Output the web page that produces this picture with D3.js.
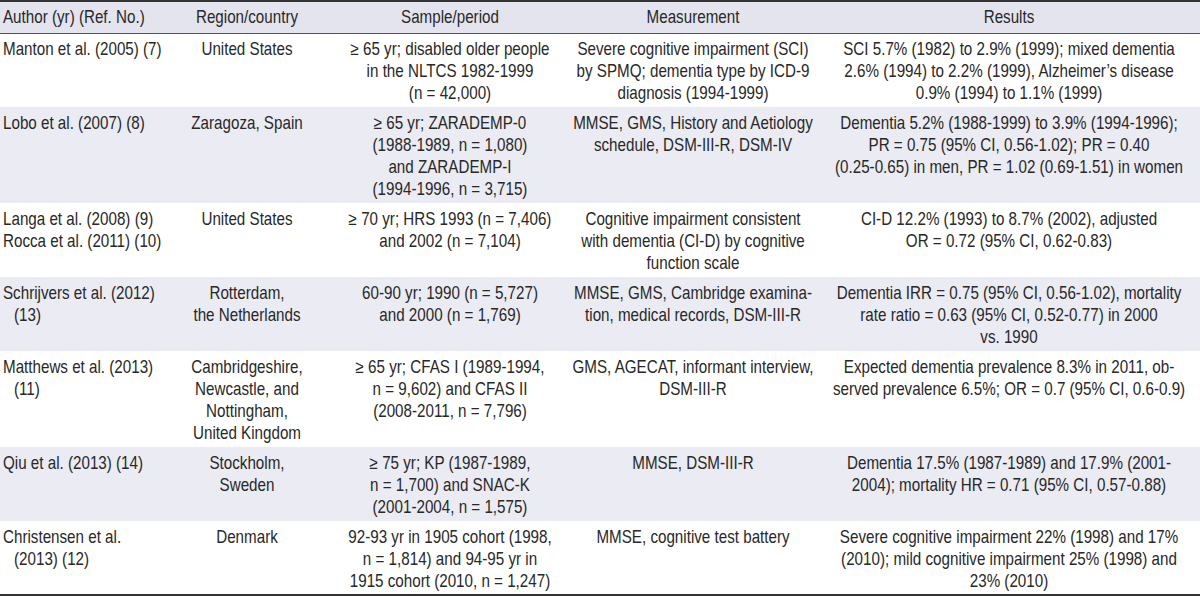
<!DOCTYPE html>
<html>
<head>
<meta charset="utf-8">
<script src="https://cdn.jsdelivr.net/npm/d3@7/dist/d3.min.js"></script>
<style>
  html, body { margin: 0; padding: 0; background: #ffffff; }
  svg { display: block; }
  text { font-family: "Liberation Sans Narrow", "Arial Narrow", "Liberation Sans", Arial, sans-serif; font-size: 18px; fill: #282828; }
</style>
</head>
<body>
<svg id="chart" width="1200" height="596"></svg>
<script>
// ---- Table content (lines broken as in the reference) ----
const columns = ["Author (yr) (Ref. No.)", "Region/country", "Sample/period", "Measurement", "Results"];

const authors = [
  ["Manton et al. (2005) (7)"],
  ["Lobo et al. (2007) (8)"],
  ["Langa et al. (2008) (9)", "Rocca et al. (2011) (10)"],
  ["Schrijvers et al. (2012)", "(13)"],
  ["Matthews et al. (2013)", "(11)"],
  ["Qiu et al. (2013) (14)"],
  ["Christensen et al.", "(2013) (12)"]
];

const regions = [
  ["United States"],
  ["Zaragoza, Spain"],
  ["United States"],
  ["Rotterdam,", "the Netherlands"],
  ["Cambridgeshire,", "Newcastle, and", "Nottingham,", "United Kingdom"],
  ["Stockholm,", "Sweden"],
  ["Denmark"]
];

const samples = [
  ["≥ 65 yr; disabled older people", "in the NLTCS 1982-1999", "(n = 42,000)"],
  ["≥ 65 yr; ZARADEMP-0", "(1988-1989, n = 1,080)", "and ZARADEMP-I", "(1994-1996, n = 3,715)"],
  ["≥ 70 yr; HRS 1993 (n = 7,406)", "and 2002 (n = 7,104)"],
  ["60-90 yr; 1990 (n = 5,727)", "and 2000 (n = 1,769)"],
  ["≥ 65 yr; CFAS I (1989-1994,", "n = 9,602) and CFAS II", "(2008-2011, n = 7,796)"],
  ["≥ 75 yr; KP (1987-1989,", "n = 1,700) and SNAC-K", "(2001-2004, n = 1,575)"],
  ["92-93 yr in 1905 cohort (1998,", "n = 1,814) and 94-95 yr in", "1915 cohort (2010, n = 1,247)"]
];

const measurements = [
  ["Severe cognitive impairment (SCI)", "by SPMQ; dementia type by ICD-9", "diagnosis (1994-1999)"],
  ["MMSE, GMS, History and Aetiology", "schedule, DSM-III-R, DSM-IV"],
  ["Cognitive impairment consistent", "with dementia (CI-D) by cognitive", "function scale"],
  ["MMSE, GMS, Cambridge examina-", "tion, medical records, DSM-III-R"],
  ["GMS, AGECAT, informant interview,", "DSM-III-R"],
  ["MMSE, DSM-III-R"],
  ["MMSE, cognitive test battery"]
];

const results = [
  ["SCI 5.7% (1982) to 2.9% (1999); mixed dementia", "2.6% (1994) to 2.2% (1999), Alzheimer’s disease", "0.9% (1994) to 1.1% (1999)"],
  ["Dementia 5.2% (1988-1999) to 3.9% (1994-1996);", "PR = 0.75 (95% CI, 0.56-1.02); PR = 0.40", "(0.25-0.65) in men, PR = 1.02 (0.69-1.51) in women"],
  ["CI-D 12.2% (1993) to 8.7% (2002), adjusted", "OR = 0.72 (95% CI, 0.62-0.83)"],
  ["Dementia IRR = 0.75 (95% CI, 0.56-1.02), mortality", "rate ratio = 0.63 (95% CI, 0.52-0.77) in 2000", "vs. 1990"],
  ["Expected dementia prevalence 8.3% in 2011, ob-", "served prevalence 6.5%; OR = 0.7 (95% CI, 0.6-0.9)"],
  ["Dementia 17.5% (1987-1989) and 17.9% (2001-", "2004); mortality HR = 0.71 (95% CI, 0.57-0.88)"],
  ["Severe cognitive impairment 22% (1998) and 17%", "(2010); mild cognitive impairment 25% (1998) and", "23% (2010)"]
];

// ---- Layout ----
const W = 1200;
const headerH = 33;
const lineH = 22;
const rowPad = 8;
const cellCols = [authors, regions, samples, measurements, results];
const colAnchor = ["start", "middle", "middle", "middle", "middle"];

const svg = d3.select("#chart");

// Calibrate horizontal compression so the condensed look matches (reference line widths in px)
const probes = [
  ["SCI 5.7% (1982) to 2.9% (1999); mixed dementia", 322],
  ["Manton et al. (2005) (7)", 160],
  ["(0.25-0.65) in men, PR = 1.02 (0.69-1.51) in women", 357]
];
let measured = 0, target = 0;
probes.forEach(([s, w]) => {
  const t = svg.append("text").text(s);
  measured += t.node().getComputedTextLength();
  target += w;
  t.remove();
});
const k = Math.min(1, target / measured);

const xCol = d3.scaleOrdinal().domain(columns).range([3, 247, 450, 693, 1009]);

const rowLines = authors.map((_, i) => d3.max(cellCols, c => c[i].length));
const totalLines = d3.sum(rowLines);
const yUnits = d3.scaleLinear().domain([0, totalLines]).range([headerH, headerH + totalLines * lineH]);

let acc = 0;
const rows = rowLines.map((n, i) => {
  const top = yUnits(acc) + i * rowPad;
  acc += n;
  return { i, n, top, h: n * lineH + rowPad };
});

// Backgrounds
svg.append("rect").attr("x", 0).attr("y", 0).attr("width", W).attr("height", headerH).attr("fill", "#e4e4ee");
svg.selectAll("rect.band").data(rows.filter(r => r.i % 2 === 1)).join("rect")
  .attr("class", "band")
  .attr("x", 0).attr("y", d => d.top).attr("width", W).attr("height", d => d.h)
  .attr("fill", "#ebebf3");

// Rules
const lastBottom = rows[rows.length - 1].top + rows[rows.length - 1].h;
svg.append("line").attr("x1", 0).attr("x2", W).attr("y1", 1).attr("y2", 1).attr("stroke", "#333").attr("stroke-width", 2);
svg.append("line").attr("x1", 0).attr("x2", W).attr("y1", headerH + 0.5).attr("y2", headerH + 0.5).attr("stroke", "#555").attr("stroke-width", 1);
svg.append("line").attr("x1", 0).attr("x2", W).attr("y1", lastBottom).attr("y2", lastBottom).attr("stroke", "#333").attr("stroke-width", 2);

function place(sel, x, y, anchor) {
  sel.attr("text-anchor", anchor)
     .attr("dominant-baseline", "central")
     .attr("transform", `translate(${x},${y}) scale(${k},1)`);
}

// Header
columns.forEach((c, j) => {
  svg.append("text").text(c).call(place, xCol(c), headerH / 2 + 0.5, colAnchor[j]);
});

// Body
rows.forEach(r => {
  cellCols.forEach((col, j) => {
    col[r.i].forEach((line, li) => {
      const indent = (j === 0 && li > 0 && line.startsWith("(")) ? 11 : 0;
      const y = r.top + rowPad / 2 + lineH / 2 + li * lineH + 1;
      svg.append("text").text(line).call(place, xCol(columns[j]) + indent, y, colAnchor[j]);
    });
  });
});
</script>
</body>
</html>
